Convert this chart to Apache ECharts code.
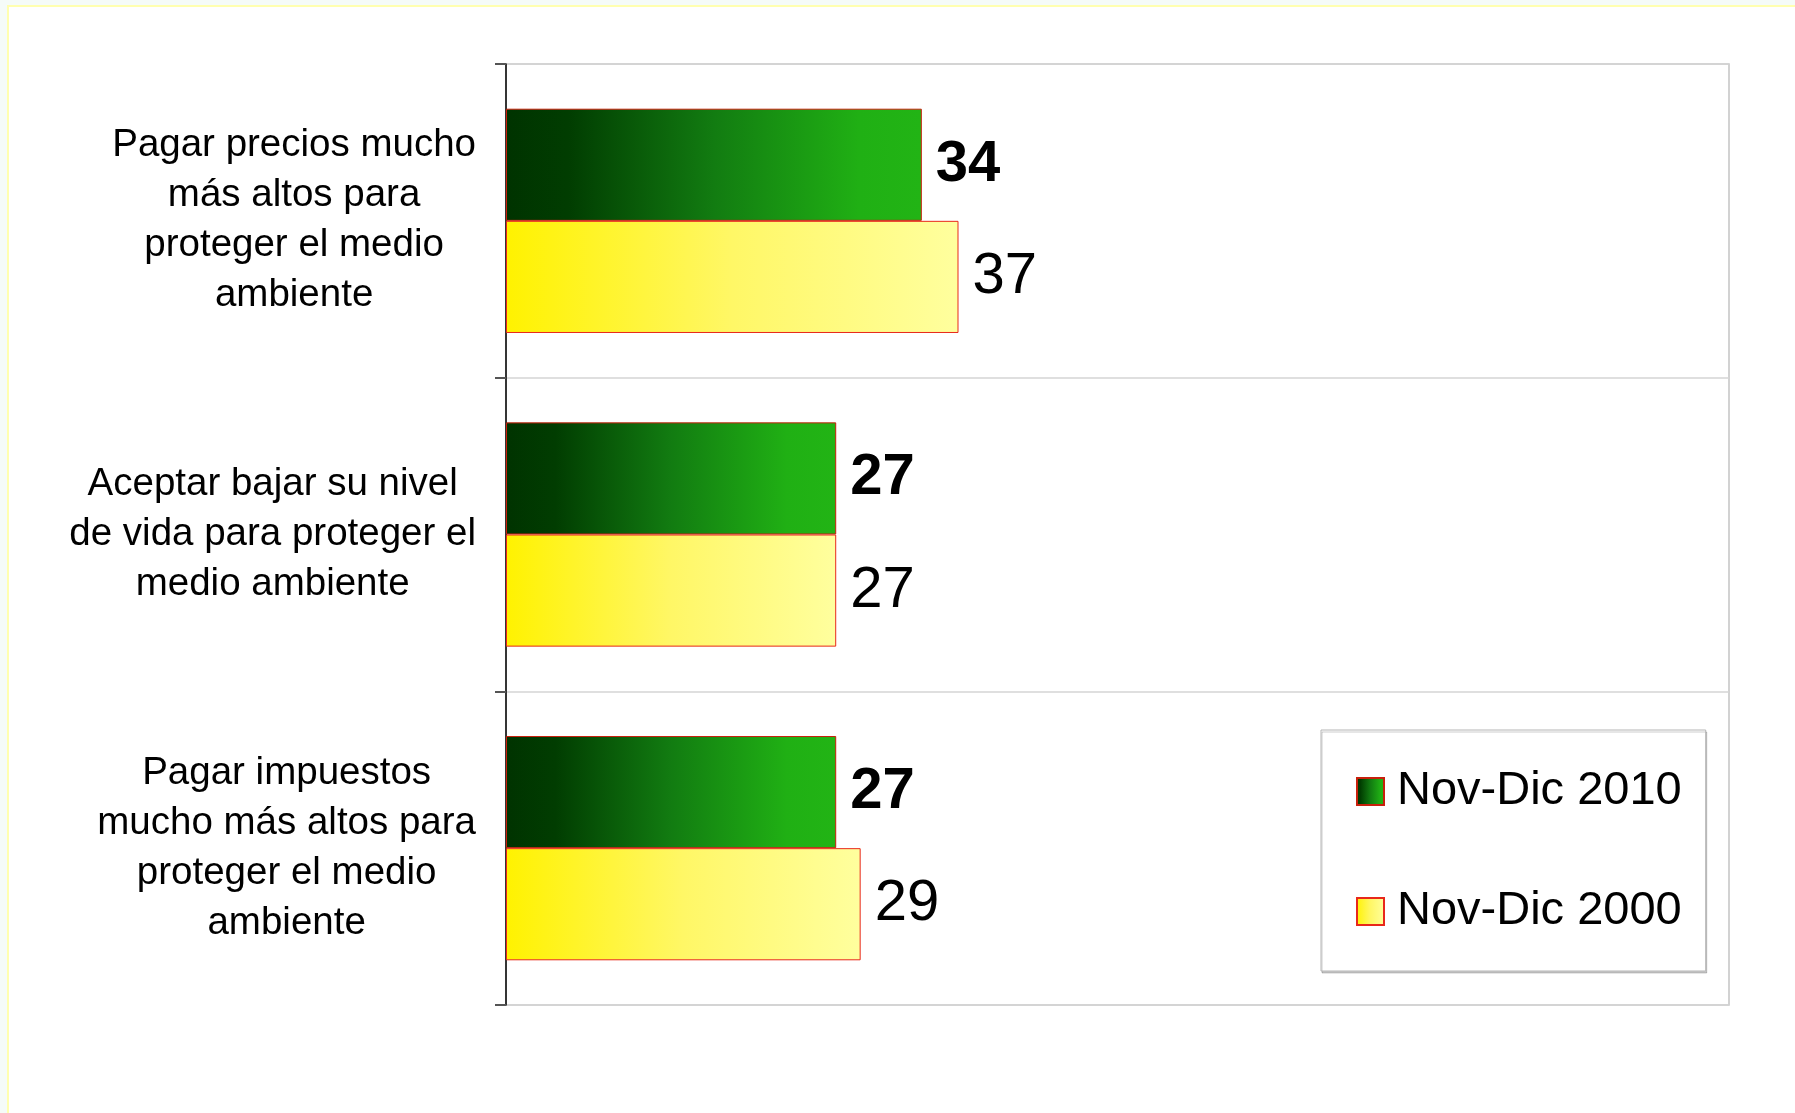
<!DOCTYPE html>
<html>
<head>
<meta charset="utf-8">
<script src="https://cdn.jsdelivr.net/npm/echarts@6/dist/echarts.min.js"></script>
<style>
  body { margin: 0; background: #f5fbf8; }
  #frame { position: absolute; left: 7px; top: 5px; width: 1788px; height: 1108px; background: #fff;
           border-left: 2px solid #ffffb0; border-top: 2px solid #ffffb0; }
  #chart { position: absolute; left: 0; top: 0; width: 1795px; height: 1113px; }
</style>
</head>
<body>
<div id="frame"></div>
<div id="chart"></div>
<script>
const categories = [
  "Pagar precios mucho\nmás altos para\nproteger el medio\nambiente",
  "Aceptar bajar su nivel\nde vida para proteger el\nmedio ambiente",
  "Pagar impuestos\nmucho más altos para\nproteger el medio\nambiente",
];
const seriesNames = ["Nov-Dic 2010", "Nov-Dic 2000"];
const values2010 = [34, 27, 27];
const values2000 = [37, 27, 29];

const font = "'Liberation Sans', Arial, sans-serif";

var greenFill = new echarts.graphic.LinearGradient(0, 0, 1, 0, [
  { offset: 0, color: "#003300" },
  { offset: 0.15, color: "#013d01" },
  { offset: 0.5, color: "#127c11" },
  { offset: 0.85, color: "#20b014" },
  { offset: 1, color: "#22b415" },
]);
var yellowFill = new echarts.graphic.LinearGradient(0, 0, 1, 0, [
  { offset: 0, color: "#fff200" },
  { offset: 0.5, color: "#fff766" },
  { offset: 1, color: "#ffff9e" },
]);

var chartDom = document.getElementById("chart");
var mychart = echarts.init(chartDom, null, { renderer: "canvas" });

var option = {
  backgroundColor: "transparent",
  animation: false,
  textStyle: { fontFamily: font },
  grid: {
    left: 506,
    top: 64,
    right: 66,
    bottom: 108,
    show: true,
    borderColor: "#c4c4c4",
    borderWidth: 1.5,
  },
  legend: {
    orient: "vertical",
    left: 1321,
    top: 730,
    padding: [38, 24, 36, 35],
    itemGap: 73,
    itemWidth: 27,
    itemHeight: 27,
    icon: "rect",
    backgroundColor: "#fff",
    borderColor: "#b4b4b4",
    borderWidth: 1,
    shadowColor: "rgba(0,0,0,0.2)",
    shadowOffsetX: 1,
    shadowOffsetY: 2,
    textStyle: { fontSize: 47, color: "#000", fontFamily: font, padding: [0, 0, 0, 8] },
    data: seriesNames,
  },
  xAxis: {
    type: "value",
    min: 0,
    max: 100,
    show: false,
  },
  yAxis: {
    type: "category",
    inverse: true,
    data: categories,
    axisLine: { show: true, lineStyle: { color: "#000", width: 1.5 } },
    axisTick: { show: true, inside: false, length: 11, lineStyle: { color: "#555", width: 2 } },
    splitLine: { show: true, lineStyle: { color: "#d4d4d4", width: 1.5 } },
    axisLabel: {
      margin: 30,
      color: "#000",
      fontSize: 38.5,
      lineHeight: 50,
      fontFamily: font,
      formatter: function (v) {
        return v.split("\n").map((l) => "{c|" + l + "}").join("\n");
      },
      rich: {
        c: { align: "center", fontSize: 38.5, lineHeight: 50, color: "#000", fontFamily: font },
      },
    },
  },
  series: [
    {
      name: seriesNames[0],
      type: "bar",
      data: values2010,
      barGap: "0%",
      barCategoryGap: "28.5%",
      itemStyle: { color: greenFill, borderColor: "#c8200c", borderWidth: 1 },
      label: {
        show: true,
        position: "right",
        distance: 14,
        fontSize: 58,
        fontWeight: "bold",
        color: "#000",
        fontFamily: font,
      },
    },
    {
      name: seriesNames[1],
      type: "bar",
      data: values2000,
      barGap: "0%",
      barCategoryGap: "28.5%",
      itemStyle: { color: yellowFill, borderColor: "#e8281a", borderWidth: 1 },
      label: {
        show: true,
        position: "right",
        distance: 14,
        fontSize: 58,
        color: "#000",
        fontFamily: font,
      },
    },
  ],
};

mychart.setOption(option);
</script>
</body>
</html>
